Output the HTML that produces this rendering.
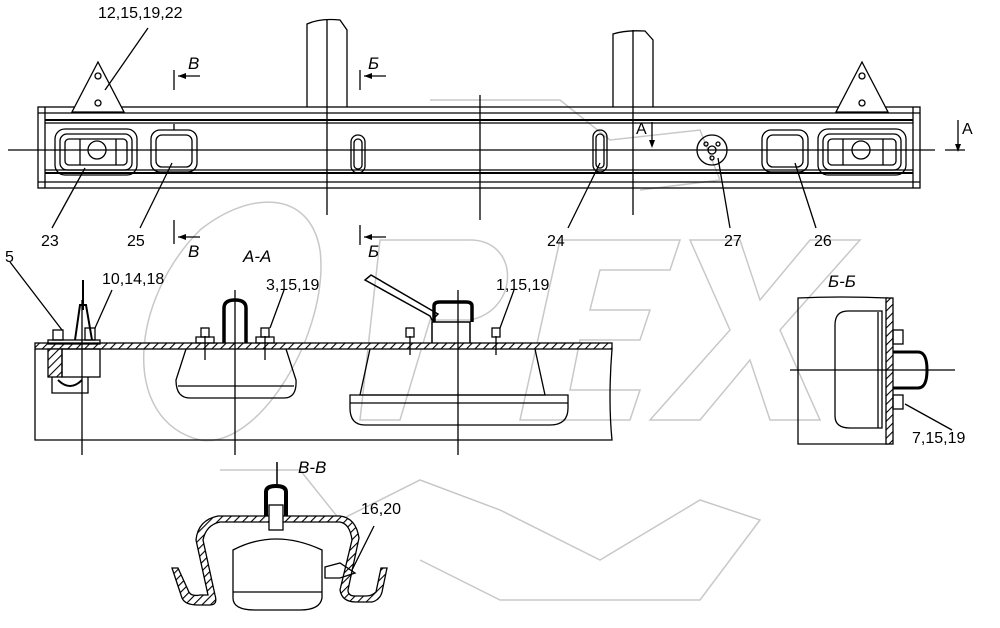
<!DOCTYPE html>
<html><head><meta charset="utf-8"><style>
html,body{margin:0;padding:0;background:#fff;width:1000px;height:628px;overflow:hidden}
svg{display:block}
text{font-family:"Liberation Sans",sans-serif;font-size:16px;fill:#000}
.i{font-style:italic;font-size:17px}
</style></head><body>
<svg width="1000" height="628" viewBox="0 0 1000 628" xmlns="http://www.w3.org/2000/svg">
<defs>
<pattern id="h" width="6" height="6" patternUnits="userSpaceOnUse" patternTransform="rotate(45)">
<rect width="6" height="6" fill="#fff"/><line x1="0" y1="0" x2="0" y2="6" stroke="#000" stroke-width="2.2"/></pattern>
</defs>
<!-- watermark -->
<g fill="none" stroke="#c8c8c8" stroke-width="1.5">
<path d="M200,230 C130,300 120,420 200,440 C260,450 330,330 320,250 C310,190 250,190 200,230 Z"/>
<path d="M380,240 L470,240 C520,240 520,310 470,320 L430,320 L400,420 L360,420 Z"/>
<path d="M560,240 L680,240 L670,270 L600,270 L590,310 L650,310 L640,340 L580,340 L570,390 L640,390 L630,420 L520,420 Z"/>
<path d="M690,240 L740,240 L760,300 L810,240 L860,240 L780,330 L820,420 L770,420 L750,360 L700,420 L650,420 L730,330 Z"/>
<path d="M220,470 L300,470 L340,520 L420,480 L500,510 L600,560 L700,500 L760,520 L700,600 L500,600 L420,560"/>
<path d="M430,100 L560,100 L610,140 L700,130 L720,180 L640,190"/>
</g>
<g fill="none" stroke="#000" stroke-width="1.3">
<path d="M307,107 V24 Q320,18 340,20 L347,30 V107"/>
<path d="M613,107 V34 Q625,30 645,31 L653,40 V107"/>
<rect x="38" y="107" width="882" height="81"/>
<line x1="45" y1="107" x2="45" y2="188"/><line x1="913" y1="107" x2="913" y2="188"/>
<line x1="38" y1="113" x2="920" y2="113"/>
<line x1="45" y1="120" x2="913" y2="120" stroke-width="2"/>
<line x1="45" y1="123" x2="913" y2="123"/>
<line x1="45" y1="170" x2="913" y2="170"/>
<line x1="45" y1="173" x2="913" y2="173" stroke-width="2"/>
<line x1="38" y1="182" x2="920" y2="182"/>
<path d="M98,62 L72,112 H124 Z" fill="#fff"/>
<circle cx="98" cy="76" r="3"/><circle cx="98" cy="103" r="3"/>
<path d="M862,62 L836,112 H888 Z" fill="#fff"/>
<circle cx="862" cy="76" r="3"/><circle cx="862" cy="103" r="3"/>
<rect x="55" y="129" width="82" height="46" rx="10"/>
<rect x="60" y="134" width="72" height="36" rx="7"/>
<rect x="65" y="139" width="62" height="26" rx="4"/>
<line x1="80" y1="139" x2="80" y2="165"/><line x1="116" y1="139" x2="116" y2="165"/>
<circle cx="97" cy="150" r="9"/>
<rect x="818" y="129" width="88" height="46" rx="10"/>
<rect x="823" y="134" width="78" height="36" rx="7"/>
<rect x="828" y="139" width="68" height="26" rx="4"/>
<line x1="843" y1="139" x2="843" y2="165"/><line x1="883" y1="139" x2="883" y2="165"/>
<circle cx="861" cy="150" r="9"/>
<rect x="151" y="130" width="46" height="42" rx="9"/><rect x="156" y="135" width="36" height="32" rx="6"/>
<line x1="174" y1="124" x2="174" y2="130"/>
<rect x="762" y="130" width="46" height="42" rx="9"/><rect x="767" y="135" width="36" height="32" rx="6"/>
<rect x="351" y="135" width="14" height="38" rx="7"/><rect x="354" y="139" width="8" height="30" rx="4"/>
<rect x="593" y="130" width="14" height="42" rx="7"/><rect x="596" y="134" width="8" height="34" rx="4"/>
<circle cx="712" cy="150" r="15"/><circle cx="712" cy="150" r="4"/>
<circle cx="706" cy="144" r="2"/><circle cx="718" cy="144" r="2"/><circle cx="712" cy="158" r="2"/>
<line x1="8" y1="150" x2="935" y2="150"/><line x1="945" y1="150" x2="965" y2="150"/>
<line x1="327" y1="20" x2="327" y2="215"/>
<line x1="480" y1="95" x2="480" y2="220"/>
<line x1="633" y1="30" x2="633" y2="215"/>
<line x1="174" y1="70" x2="174" y2="90"/><line x1="178" y1="76" x2="200" y2="76"/>
<line x1="360" y1="70" x2="360" y2="90"/><line x1="364" y1="76" x2="386" y2="76"/>
<line x1="174" y1="220" x2="174" y2="244"/><line x1="178" y1="237" x2="200" y2="237"/>
<line x1="360" y1="225" x2="360" y2="245"/><line x1="364" y1="237" x2="386" y2="237"/>
<line x1="652" y1="122" x2="652" y2="145"/><line x1="958" y1="120" x2="958" y2="150"/>
<line x1="148" y1="28" x2="105" y2="90"/>
<line x1="52" y1="228" x2="85" y2="168"/>
<line x1="140" y1="228" x2="172" y2="163"/>
<line x1="568" y1="228" x2="600" y2="163"/>
<line x1="730" y1="228" x2="718" y2="158"/>
<line x1="816" y1="228" x2="795" y2="163"/>
</g>
<g fill="#000">
<path d="M178,76 l8,-3 v6 z"/><path d="M364,76 l8,-3 v6 z"/>
<path d="M178,237 l8,-3 v6 z"/><path d="M364,237 l8,-3 v6 z"/>
<path d="M652,148 l-3,-8 h6 z"/><path d="M958,152 l-3,-8 h6 z"/>
</g>
<text x="98" y="18">12,15,19,22</text>
<text class="i" x="188" y="69">В</text><text class="i" x="368" y="69">Б</text>
<text class="i" x="188" y="257">В</text><text class="i" x="368" y="257">Б</text>
<text x="636" y="134">А</text><text x="962" y="134">А</text>
<text x="41" y="246">23</text><text x="127" y="246">25</text>
<text x="547" y="246">24</text><text x="724" y="246">27</text><text x="814" y="246">26</text>

<text class="i" x="243" y="262">А-А</text>
<text x="5" y="262">5</text><text x="102" y="284">10,14,18</text>
<text x="266" y="290">3,15,19</text><text x="496" y="290">1,15,19</text>
<g fill="none" stroke="#000" stroke-width="1.3">
<path d="M35,349 V440 H612 Q608,400 612,349"/>
<rect x="35" y="343" width="577" height="6" fill="url(#h)"/>
<rect x="48" y="340" width="52" height="4"/>
<rect x="48" y="349" width="14" height="28" fill="url(#h)"/>
<rect x="62" y="349" width="38" height="28"/>
<path d="M52,377 V393 H88 V377"/>
<path d="M58,380 Q70,392 82,380" stroke-width="2"/>
<path d="M75,340 L80,305 L86,305 L92,340" stroke-width="2"/>
<line x1="83" y1="280" x2="83" y2="310" stroke-width="2"/>
<line x1="82" y1="300" x2="82" y2="455"/>
<rect x="53" y="330" width="10" height="10"/><rect x="85" y="328" width="10" height="12"/>
<line x1="10" y1="262" x2="62" y2="330"/><line x1="112" y1="290" x2="95" y2="328"/>
<path d="M186,349 L176,380 Q176,398 190,398 H284 Q297,398 296,380 L286,349"/>
<line x1="178" y1="386" x2="294" y2="386"/>
<path d="M224,343 V308 Q224,300 235,300 Q246,300 246,308 V343" stroke-width="3.5"/>
<line x1="235" y1="290" x2="235" y2="455"/>
<path d="M196,343 H214 V337 H196 Z"/><path d="M256,343 H274 V337 H256 Z"/>
<rect x="201" y="328" width="8" height="9"/><rect x="261" y="328" width="8" height="9"/>
<line x1="205" y1="336" x2="205" y2="360"/><line x1="265" y1="336" x2="265" y2="360"/>
<line x1="284" y1="290" x2="270" y2="328"/>
<path d="M370,349 L360,395 H545 L535,349"/>
<path d="M350,395 H568 V408 Q568,425 550,425 H365 Q350,425 350,408 Z"/>
<line x1="350" y1="403" x2="568" y2="403"/>
<path d="M432,343 V322 H470 V343" stroke-width="1.5"/>
<path d="M434,322 V306 Q434,302 440,302 H466 Q472,302 472,306 V322" stroke-width="3.5"/>
<path d="M365,280 L430,316 L432,320 L438,314 L371,275 Z" stroke-width="1.5"/>
<line x1="458" y1="290" x2="458" y2="455"/>
<rect x="406" y="328" width="8" height="9"/><rect x="492" y="328" width="8" height="9"/>
<line x1="410" y1="336" x2="410" y2="355"/><line x1="496" y1="336" x2="496" y2="355"/>
<line x1="514" y1="290" x2="500" y2="328"/>
</g>

<text class="i" x="828" y="287">Б-Б</text>
<text x="912" y="443">7,15,19</text>
<g fill="none" stroke="#000" stroke-width="1.3">
<path d="M798,298 Q840,296 888,298 V444 H798 Z"/>
<rect x="886" y="298" width="7" height="146" fill="url(#h)"/>
<path d="M882,311 H848 Q835,311 835,325 V416 Q835,428 850,428 H882 Z"/>
<line x1="878" y1="312" x2="878" y2="428"/>
<path d="M893,352 H918 Q927,352 927,370 Q927,388 918,388 H893" stroke-width="3"/>
<rect x="893" y="330" width="10" height="14"/><rect x="893" y="395" width="10" height="14"/>
<line x1="790" y1="370" x2="955" y2="370"/>
<line x1="952" y1="430" x2="905" y2="404"/>
</g>

<text class="i" x="298" y="473">В-В</text>
<text x="361" y="514">16,20</text>
<g fill="none" stroke="#000" stroke-width="1.3">
<path d="M172,568 L182,598 Q185,605 198,605 H210 Q218,605 215,595 L203,540 Q206,525 220,522 H340 Q350,524 352,540 L340,590 Q342,602 356,602 H372 Q380,600 382,592 L387,568 L381,568 L376,592 Q372,596 366,596 H355 Q348,596 348,590 L359,538 Q356,518 340,516 H218 Q198,520 196,540 L208,595 H200 Q190,597 188,590 L178,568 Z" fill="url(#h)"/>
<path d="M233,550 Q275,528 322,550 V598 Q320,610 300,610 H255 Q233,610 233,598 Z" fill="#fff"/>
<line x1="233" y1="592" x2="322" y2="592"/>
<rect x="269" y="505" width="14" height="25" fill="#fff"/>
<path d="M266,516 V492 Q266,486 276,486 Q286,486 286,492 V516" stroke-width="4"/>
<line x1="277" y1="462" x2="277" y2="486" stroke-width="1.5"/>
<path d="M325,567 L340,563 L355,573 L340,578 L325,578 Z"/>
<line x1="374" y1="526" x2="352" y2="570"/>
</g>
</svg>
</body></html>
